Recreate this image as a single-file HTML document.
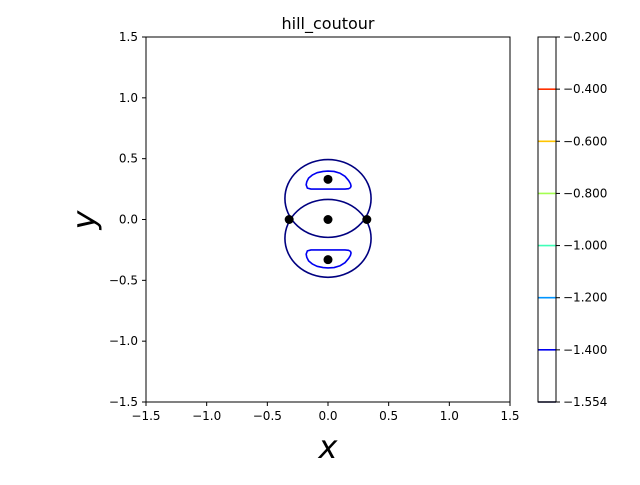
<!DOCTYPE html>
<html><head><meta charset="utf-8"><style>
body{margin:0;background:#fff;}
svg text{font-family:"DejaVu Sans","Liberation Sans",sans-serif;}
</style></head><body>
<svg id="chart" width="640" height="480" xmlns="http://www.w3.org/2000/svg">
<rect width="640" height="480" fill="#fff"/>
<g id="plot"></g>
<g id="cbar"></g>
<text x="328" y="29" font-size="16" text-anchor="middle">hill_coutour</text>
<text x="328" y="458" font-size="32" font-style="italic" text-anchor="middle">x</text>
<text transform="translate(95,220) rotate(-90)" font-size="32" font-style="italic" text-anchor="middle">y</text>
</svg>
<script>
const xTicks=[-1.5,-1.0,-0.5,0.0,0.5,1.0,1.5];
const yTicks=[-1.5,-1.0,-0.5,0.0,0.5,1.0,1.5];
const ellipseCX=[0,0];
const ellipseCY=[0.173,-0.155];
const ellipseRX=[0.355,0.355];
const ellipseRY=[0.32,0.32];
const blueTopX=[-0.18,-0.175,-0.16,-0.13,-0.09,-0.04,0.0,0.05,0.10,0.14,0.17,0.185,0.19,0.185,0.17,0.14,-0.14,-0.17,-0.18];
const blueTopY=[0.285,0.31,0.34,0.365,0.385,0.395,0.398,0.395,0.38,0.355,0.32,0.295,0.275,0.262,0.253,0.25,0.25,0.258,0.285];
const pointsX=[0,0,-0.32,0.32,0];
const pointsY=[0.33,0,0,0,-0.33];
const cbLevels=[-0.4,-0.6,-0.8,-1.0,-1.2,-1.4,-1.554];
const cbColors=["#ff3000","#ffc400","#a4ff50","#40ffb8","#0094ff","#0000f0","#000040"];
const cbTickLabels=["\u22120.200","\u22120.400","\u22120.600","\u22120.800","\u22121.000","\u22121.200","\u22121.400","\u22121.554"];
const NS="http://www.w3.org/2000/svg";
const X0=146,X1=510,Y0=402,Y1=37;
const sx=v=>X0+(v+1.5)/3*(X1-X0);
const sy=v=>Y0-(v+1.5)/3*(Y0-Y1);
const cyIdx=i=>37+i*365/(cbTickLabels.length-1);
function mk(p,t,a){const e=document.createElementNS(NS,t);for(const k in a)e.setAttribute(k,a[k]);p.appendChild(e);return e;}
const plot=document.getElementById('plot');
const fmt=v=>(v<0?"\u2212":"")+Math.abs(v).toFixed(1);
xTicks.forEach(v=>{
 const l=mk(plot,'line',{x1:sx(v),x2:sx(v),y1:402,y2:406,stroke:'#000'});
 
 
 const t=mk(plot,'text',{x:sx(v),y:420,'font-size':12,'text-anchor':'middle'});t.textContent=fmt(v);
 
 
});
yTicks.forEach(v=>{
 const l=mk(plot,'line',{x1:142,x2:146,y1:sy(v),y2:sy(v),stroke:'#000'});
 
 
 const t=mk(plot,'text',{x:138,y:sy(v)+4,'font-size':12,'text-anchor':'end'});t.textContent=fmt(v);
 
 
});
ellipseCX.forEach((c,i)=>{
 const e=mk(plot,'ellipse',{cx:sx(c),cy:sy(ellipseCY[i]),rx:ellipseRX[i]*(X1-X0)/3,ry:ellipseRY[i]*(Y0-Y1)/3,fill:'none',stroke:'#000080','stroke-width':1.6});
 
 
});
[1,-1].forEach((s,k)=>{
 const d=blueTopX.map((x,i)=>(i?'L':'M')+sx(x)+','+sy(s*blueTopY[i])).join('')+'Z';
 const p=mk(plot,'path',{d:d,fill:'none',stroke:'#0000f0','stroke-width':1.6,'stroke-linejoin':'round'});
 
 
});
pointsX.forEach((x,i)=>{
 const c=mk(plot,'circle',{cx:sx(x),cy:sy(pointsY[i]),r:4.5,fill:'#000'});
 
 
});
const fr=mk(plot,'rect',{x:146,y:37,width:364,height:365,fill:'none',stroke:'#000'});


const cb=document.getElementById('cbar');
cbLevels.forEach((v,i)=>{
 const l=mk(cb,'line',{x1:538,x2:556,y1:cyIdx(i+1),y2:cyIdx(i+1),stroke:cbColors[i],'stroke-width':1.6});
 
 
});
const cr=mk(cb,'rect',{x:538,y:37,width:18,height:365,fill:'none',stroke:'#000'});


cbTickLabels.forEach((s,i)=>{
 const l=mk(cb,'line',{x1:556,x2:560,y1:cyIdx(i),y2:cyIdx(i),stroke:'#000'});
 
 
 const t=mk(cb,'text',{x:563,y:cyIdx(i)+4,'font-size':12});t.textContent=s;
 
 
});
</script>
</body></html>
